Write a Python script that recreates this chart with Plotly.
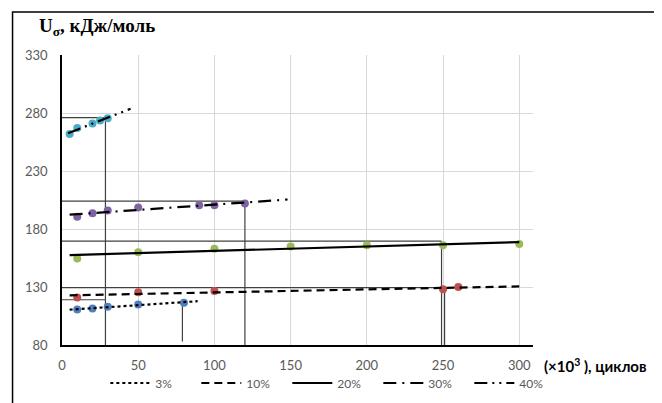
import numpy as np
import plotly.graph_objects as go

# ---- data ----
x3 = [10, 20, 30, 50, 80]
y3 = [110.5, 111.5, 113, 115, 116.5]
x10 = [10, 50, 100, 250, 260]
y10 = [121, 125.5, 126.5, 128, 130]
x20 = [10, 50, 100, 150, 200, 250, 300]
y20 = [154.5, 160, 163, 165, 166, 166, 167]
x30 = [10, 20, 30, 50, 90, 100, 120]
y30 = [190.5, 193.5, 196, 198.5, 200.5, 200.5, 202]
x40 = [5, 10, 20, 25, 30]
y40 = [262, 267, 271, 273.5, 275.5]

series_names = ["3%", "10%", "20%", "30%", "40%"]
trend_from = [5, 5, 5, 5, 4]
trend_to = [89, 300, 300, 148, 45]

# reference (construction) lines
h_level = [119, 129.5, 169.5, 204, 276]
h_end = [28.5, 251, 249, 120, 28.5]
v_pos = [79, 251, 249, 120, 28.5]
v_top = [116, 129.5, 169.5, 204, 276]
v_bot = [83, 80, 80, 80, 80]

x_ticks = [0, 50, 100, 150, 200, 250, 300]
y_ticks = [80, 130, 180, 230, 280, 330]

xs = [x3, x10, x20, x30, x40]
ys = [y3, y10, y20, y30, y40]
colors = ["#4f81bd", "#c0504d", "#9bbb59", "#8064a2", "#4bacc6"]
dashes = ["dot", "8px,5px", "solid", "13px,6px,2px,6px", "13px,5px,2px,5px,2px,5px"]

fig = go.Figure()

# construction lines
ref_col = "#404040"
for lv, xe in zip(h_level, h_end):
    fig.add_trace(go.Scatter(x=[0, xe], y=[lv, lv], mode="lines",
                             line=dict(color=ref_col, width=1.2),
                             showlegend=False, hoverinfo="skip"))
for xp, yt, yb in zip(v_pos, v_top, v_bot):
    fig.add_trace(go.Scatter(x=[xp, xp], y=[yt, yb], mode="lines",
                             line=dict(color=ref_col, width=1.2),
                             showlegend=False, hoverinfo="skip"))

# data points
for xx, yy, c in zip(xs, ys, colors):
    fig.add_trace(go.Scatter(x=xx, y=yy, mode="markers",
                             marker=dict(color=c, size=8),
                             showlegend=False))

# linear trend lines
for xx, yy, nm, d, a, b in zip(xs, ys, series_names, dashes, trend_from, trend_to):
    k, m = np.polyfit(xx, yy, 1)
    tx = np.array([a, b], dtype=float)
    fig.add_trace(go.Scatter(x=tx, y=k * tx + m, mode="lines", name=nm,
                             line=dict(color="black", width=2.2, dash=d)))

tick_font = dict(family="Lato", size=13, color="#595959")

fig.update_layout(
    width=662, height=403,
    margin=dict(l=54, r=137, t=47, b=66, autoexpand=False),
    paper_bgcolor="white", plot_bgcolor="white",
    xaxis=dict(range=[0, 309], tickvals=x_ticks, showgrid=True,
               gridcolor="#d9d9d9", gridwidth=1, zeroline=False,
               showline=True, linecolor="black", linewidth=1.5,
               tickfont=tick_font, ticks="", ticklabelstandoff=8),
    yaxis=dict(range=[80, 330], tickvals=y_ticks, showgrid=True,
               gridcolor="#d9d9d9", gridwidth=1, zeroline=False,
               showline=True, linecolor="black", linewidth=1.5,
               tickfont=tick_font, ticks="", ticklabelstandoff=10),
    legend=dict(orientation="h", x=0.575, xanchor="center",
                y=-0.131, yanchor="middle",
                font=dict(family="Lato", size=12, color="#595959"),
                itemwidth=40, entrywidth=36, bgcolor="rgba(0,0,0,0)"),
    annotations=[
        dict(text="<b>U<sub>σ</sub>, кДж/моль</b>", xref="paper", yref="paper",
             x=-0.053, y=1.097, xanchor="left", yanchor="middle", showarrow=False,
             font=dict(family="Liberation Serif", size=19, color="black")),
        dict(text="<b>(×10<sup>3</sup> ), циклов</b>", xref="paper", yref="paper",
             x=1.02, y=-0.069, xanchor="left", yanchor="middle", showarrow=False,
             font=dict(family="Lato", size=15, color="black")),
    ],
    shapes=[dict(type="rect", xref="paper", yref="paper",
                 x0=-0.105, x1=1.259, y0=-0.25, y1=1.148,
                 line=dict(color="black", width=1.5))],
)

fig.write_html("out.html")
